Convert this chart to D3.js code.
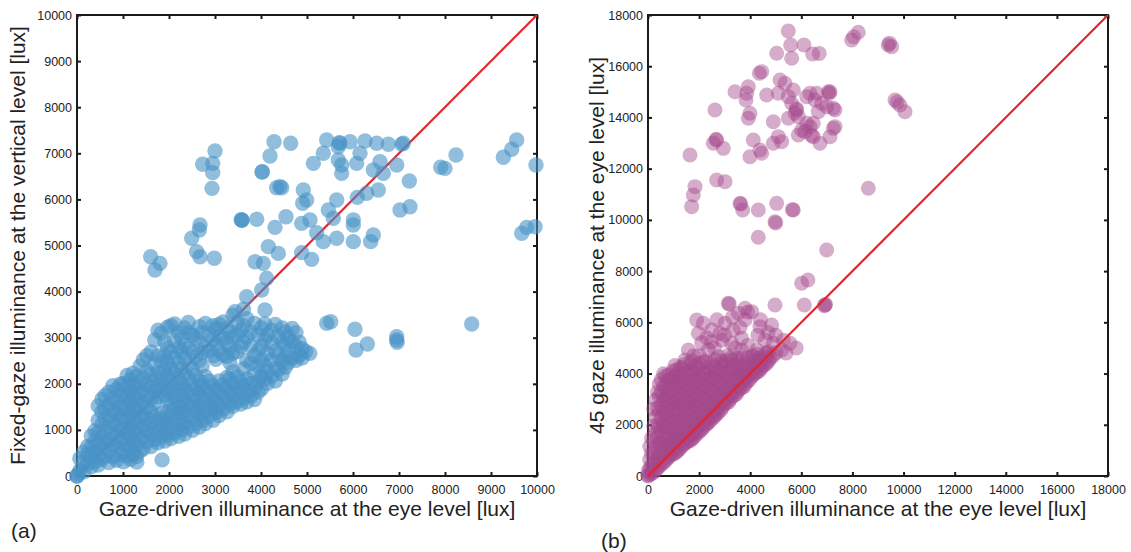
<!DOCTYPE html>
<html>
<head>
<meta charset="utf-8">
<title>Gaze-driven illuminance</title>
<script src="https://d3js.org/d3.v7.min.js"></script>
<style>
  body { margin: 0; background: #fff; }
  text { font-family: "Liberation Sans", Arial, sans-serif; fill: #222; }
</style>
</head>
<body>
<script>
// ---- data (lux) ----
// panel (a): gaze-driven vs fixed-gaze, scattered points
var spreadA = [
  [0,0],[0,0],[30,40],[1300,300],[1850,350],
  [4283,7252],[4645,7217],[3000,7050],[2732,6761],[2950,6782],[2950,6580],[2935,6240],
  [4196,6941],[4022,6594],[4341,6254],[4449,6254],[4029,6601],[4413,6276],
  [5428,7288],[5717,7217],[5700,7230],[5681,7143],[5935,7252],[6261,7267],[6514,7217],
  [6768,7195],[7094,7217],[7060,7200],[5355,7000],[5138,6782],[5681,6855],[5754,6746],
  [6080,6782],[6152,7000],[5754,6565],[6442,6638],[6659,6565],[6587,6818],[6950,6746],
  [7225,6399],[8239,6963],[7906,6696],[8000,6674],[9268,6913],[9450,7087],[9558,7288],
  [9978,6746],[9667,5265],[9775,5394],[9957,5408],[8580,3297],
  [1602,4757],[1804,4613],[1696,4469],[2674,5445],[2659,5336],[2493,5156],[2601,4866],
  [2674,4757],[2985,4722],[3580,5553],[3570,5560],[3590,5545],[3906,5568],[4304,5394],
  [4543,5625],[4920,6204],[4993,5987],[4906,5915],[4884,5481],[5065,5553],[5210,5278],
  [5355,5083],[5464,5770],[5572,5590],[5645,5987],[5645,5156],[6007,5553],[6007,5445],
  [6007,5083],[6094,6045],[6297,6132],[6550,6204],[6442,5228],[6384,5083],[7022,5770],
  [7239,5842],[4159,4975],[4376,4830],[3870,4649],[4051,4613],[4123,4288],[4014,4035],
  [3689,3889],[4087,3601],[3435,3564],[4884,4845],[5101,4700],
  [5428,3312],[5514,3347],[6043,3182],[6065,2733],[6312,2863],[6950,3022],[6950,2950],[6960,2900]
];
// panel (a): dense core, listed per gaze column -> fixed-gaze values
var coreA = [
  [60, [120, 380]],
  [230, [260, 470, 640]],
  [390, [310, 520, 760, 980]],
  [540, [360, 610, 840, 1120, 1390, 1660]],
  [690, [290, 560, 790, 1060, 1310, 1540, 1820]],
  [860, [340, 620, 870, 1090, 1360, 1610, 1880]],
  [1010, [310, 540, 810, 1020, 1260, 1490, 1760, 2010]],
  [1160, [360, 620, 860, 1110, 1340, 1590, 1840, 2090]],
  [1290, [420, 660, 910, 1160, 1420, 1660, 1910, 2160]],
  [1440, [590, 860, 1110, 1340, 1610, 1860, 2120, 2520]],
  [1610, [640, 910, 1140, 1390, 1670, 1920, 2210, 2690]],
  [1760, [720, 960, 1210, 1720, 1960, 2240, 2610, 3160]],
  [1910, [760, 1010, 1260, 1760, 2010, 2310, 2610, 2910]],
  [2040, [810, 1040, 1310, 1560, 1810, 2060, 2340, 2690, 3260]],
  [2210, [860, 1110, 1360, 1590, 1860, 2110, 2460, 2780, 3110]],
  [2340, [910, 1160, 1410, 1660, 1890, 2210, 2560, 2840, 3210]],
  [2510, [990, 1260, 1510, 1740, 2010, 2310, 2690, 3060]],
  [2660, [1060, 1310, 1540, 1810, 2060, 2510, 2910, 3240]],
  [2790, [1140, 1410, 1660, 1890, 2160, 2790, 3310]],
  [2960, [1210, 1460, 1690, 1960, 2610, 2960, 3260]],
  [3090, [1310, 1540, 1810, 2060, 2710, 3020, 3290]],
  [3260, [1390, 1660, 1910, 2140, 2590, 2890, 3210]],
  [3390, [1510, 1760, 2010, 2260, 2660, 3010, 3490]],
  [3560, [1560, 1810, 2040, 2810, 3160]],
  [3690, [1610, 1860, 2110, 2510, 3010, 3410]],
  [3860, [1660, 1910, 2210, 2610, 3310]],
  [4010, [1890, 2160, 2510, 2810, 3210]],
  [4140, [2010, 2260, 2660, 3060]],
  [4310, [2060, 2340, 2710, 3290]],
  [4460, [2210, 2490, 2910, 3210]],
  [4590, [2460, 2710, 3010]],
  [4760, [2510, 2810, 3110]],
  [4890, [2560, 2760]],
  [5060, [2660]]
];
// panel (a): second pass over the core, between the columns above
var coreA2 = [
  [150, [90, 300, 520]],
  [310, [200, 410, 640, 870]],
  [460, [240, 460, 700, 940, 1210, 1520]],
  [610, [430, 720, 960, 1230, 1480, 1740]],
  [780, [420, 680, 930, 1190, 1440, 1690, 1960]],
  [940, [470, 740, 990, 1230, 1480, 1740, 1990]],
  [1090, [440, 690, 940, 1200, 1440, 1700, 1960, 2180]],
  [1220, [480, 740, 990, 1240, 1490, 1740, 1990, 2230]],
  [1370, [540, 790, 1040, 1290, 1540, 1790, 2030, 2380]],
  [1520, [740, 990, 1240, 1490, 1740, 1990, 2290, 2610]],
  [1690, [790, 1040, 1290, 1590, 1840, 2090, 2420, 2950]],
  [1830, [860, 1110, 1360, 1860, 2130, 2480, 3100]],
  [1970, [890, 1140, 1390, 1640, 1890, 2190, 2470, 2780, 3230]],
  [2120, [940, 1190, 1440, 1700, 1960, 2230, 2560, 2950, 3300]],
  [2270, [1010, 1260, 1510, 1760, 2000, 2330, 2690, 3010]],
  [2420, [1060, 1310, 1560, 1810, 2110, 2430, 2760, 3110, 3330]],
  [2580, [1140, 1390, 1640, 1890, 2180, 2590, 2990]],
  [2720, [1210, 1460, 1710, 1960, 2390, 2680, 3110]],
  [2880, [1300, 1540, 1790, 2060, 2720, 3060]],
  [3020, [1380, 1620, 1880, 2530, 2860, 3190]],
  [3180, [1460, 1720, 1980, 2630, 2990, 3340]],
  [3320, [1560, 1810, 2110, 2460, 2790, 3120]],
  [3480, [1620, 1880, 2160, 2700, 3060, 3330]],
  [3620, [1690, 1960, 2330, 2900, 3260, 3620]],
  [3780, [1740, 2010, 2440, 2820, 3120]],
  [3940, [1820, 2060, 2390, 2720, 3060]],
  [4080, [2110, 2400, 2960, 3300]],
  [4230, [2160, 2520, 2880, 3160]],
  [4380, [2310, 2620, 3020]],
  [4530, [2360, 2590, 2860, 3120]],
  [4680, [2560, 2910, 3200]],
  [4830, [2620, 2900]],
  [4970, [2700]]
];

// panel (b): gaze-driven vs 45 gaze, scattered points
var spreadB = [
  [5490,17376],[5583,16830],[6103,16830],[6443,16478],[5622,16310],[5035,16505],[4448,15788],
  [4356,15724],[3404,15006],[2621,14291],[1643,12534],[1839,11297],[1773,10972],[1708,10516],
  [2556,12991],[2686,13120],[2660,13150],[2947,12794],[2686,11558],[3013,11493],[3599,10646],
  [3630,10620],[3705,10386],[4316,10386],[4316,9320],[5035,10646],[4969,9930],[5000,9880],
  [5686,10386],[5650,10400],[6991,8825],[3861,14942],[3926,15200],[3834,14682],[3990,14162],
  [3926,13967],[4120,13120],[3990,12467],[4382,12729],[4450,12600],[4644,14877],[4903,13834],
  [4903,12991],[5098,13250],[5230,13055],[5164,15463],[5360,15332],[5098,14942],[5490,14812],
  [5686,15072],[5622,14552],[5818,14291],[5490,13967],[5881,14031],[6012,13511],[5881,13315],
  [6338,13640],[6468,13770],[6209,14812],[6338,14942],[6534,14682],[6599,14942],[6795,14552],
  [6991,14422],[7316,14291],[7095,14942],[7121,15006],[6664,14226],[7121,13250],[7251,13575],
  [7316,13640],[6730,12991],[6468,13250],[6400,13300],[6143,13445],[6209,13770],[5752,14162],
  [5800,14350],[7969,17025],[8229,17324],[8050,17150],[9402,16830],[9533,16765],[9450,16900],
  [9664,14682],[9859,14487],[10055,14226],[9750,14600],[8620,11234],[6700,16500],[7056,15006],
  [7251,14357],
  [6925,6677],[6950,6700],[6900,6650],[6116,6677],[6012,7525],[6260,7653],[4969,6677],
  [3143,6742],[3180,6720],[3795,6547],[3900,6400],[3534,6352],[4056,6417],[1904,6091],[2164,5962],
  [1969,5571],[1578,4920],[1448,4530],[3013,5962],[2817,5571],[2491,5246],[2360,4920],
  [2752,4660],[3338,5701],[3665,5376],[3665,4920],[3273,5181],[4382,5831],[4838,5896],
  [4577,5311],[4903,5181],[5230,4920],[5556,5181],[4250,4920],
  [2000,4700],[2300,5400],[2600,5000],[2900,5300],[3100,4700],[3400,5000],[3600,5800],
  [3900,5100],[4100,4700],[4300,5500],[2500,5700],[2700,6100],[3300,6200],[4700,5600],
  [5000,5500],[5300,5300],[4600,4800],[1800,4700],[2100,5200],[3800,6100],[4400,6100],
  [3000,5500],[3500,4600],[5800,5000],[5400,4800]
];
// panel (b): dense core, per gaze column -> 45 gaze values
var coreB = [
  [0, [0, 30, 180]],
  [140, [90, 420, 880, 1480]],
  [310, [210, 590, 1120, 1690, 2310, 2980]],
  [440, [380, 820, 1290, 1910, 2480, 3120, 3590]],
  [610, [520, 980, 1520, 2010, 2490, 3010, 3520, 3990]],
  [760, [690, 1210, 1690, 2210, 2720, 3190, 3710]],
  [890, [810, 1290, 1820, 2290, 2810, 3310, 3790]],
  [1060, [890, 1410, 1890, 2410, 2890, 3410, 3890, 4310]],
  [1190, [1010, 1490, 2010, 2490, 3010, 3490, 4010]],
  [1360, [1190, 1710, 2190, 2710, 3190, 3710, 4190]],
  [1490, [1310, 1790, 2310, 2790, 3310, 3790]],
  [1660, [1390, 1910, 2390, 2910, 3390, 3910, 4390]],
  [1790, [1510, 1990, 2510, 2990, 3510, 4010]],
  [1960, [1690, 2210, 2690, 3210, 3690, 4210]],
  [2090, [1810, 2290, 2810, 3290, 3810]],
  [2260, [1990, 2510, 2990, 3510, 3990, 4490]],
  [2390, [2110, 2590, 3110, 3590, 4110]],
  [2560, [2290, 2810, 3290, 3810, 4290]],
  [2690, [2410, 2890, 3410, 3890]],
  [2860, [2590, 3110, 3590, 4110, 4490]],
  [2990, [2810, 3290, 3810, 4310]],
  [3160, [2890, 3410, 3890]],
  [3290, [3110, 3590, 4110, 4510]],
  [3460, [3190, 3710, 4190]],
  [3590, [3410, 3890, 4310]],
  [3760, [3490, 4010]],
  [3890, [3710, 4190, 4610]],
  [4060, [3890, 4310]],
  [4190, [4010, 4490]],
  [4360, [4110, 4590]],
  [4490, [4290]],
  [4660, [4410, 4790]],
  [4790, [4610]],
  [5010, [4810]]
];
// panel (b): second pass over the core
var coreB2 = [
  [70, [60, 310, 640, 1150]],
  [220, [150, 480, 900, 1380, 1950, 2620]],
  [370, [300, 700, 1500, 2000, 2650, 3280]],
  [520, [450, 880, 1250, 1750, 2250, 2750, 3270, 3760]],
  [680, [600, 1100, 1450, 1950, 2450, 2960, 3460, 3900]],
  [820, [750, 1000, 1450, 1950, 2480, 2960, 3450, 3950]],
  [970, [850, 1100, 1550, 2050, 2550, 3050, 3550, 4100]],
  [1120, [950, 1250, 1650, 2150, 2650, 3150, 3650, 4150]],
  [1270, [1100, 1350, 1750, 2250, 2750, 3250, 3750, 4250]],
  [1420, [1250, 1500, 1950, 2450, 2950, 3450, 3950, 4350]],
  [1570, [1350, 1550, 2050, 2550, 3050, 3550, 4050]],
  [1720, [1450, 1650, 2150, 2650, 3150, 3650, 4150, 4500]],
  [1870, [1600, 1800, 2250, 2750, 3250, 3750, 4300]],
  [2020, [1750, 2000, 2450, 2950, 3450, 3950, 4400]],
  [2170, [1900, 2100, 2550, 3050, 3550, 4050, 4450]],
  [2320, [2050, 2250, 2750, 3250, 3750, 4250]],
  [2470, [2200, 2400, 2850, 3350, 3850, 4400]],
  [2620, [2350, 2550, 3050, 3550, 4050, 4550]],
  [2770, [2500, 2700, 3150, 3650, 4150]],
  [2920, [2700, 2950, 3450, 3950, 4400]],
  [3070, [2850, 3050, 3550, 4050, 4500]],
  [3220, [3000, 3200, 3650, 4150, 4600]],
  [3370, [3150, 3350, 3850, 4300]],
  [3520, [3300, 3550, 4000, 4450]],
  [3670, [3450, 3700, 4150, 4600]],
  [3820, [3600, 3850, 4350]],
  [3970, [3750, 4050, 4450]],
  [4120, [3950, 4150, 4650]],
  [4270, [4050, 4300, 4750]],
  [4420, [4200, 4500]],
  [4580, [4350, 4650]],
  [4720, [4500, 4850]],
  [4900, [4700]]
];

var ticksA = [0,1000,2000,3000,4000,5000,6000,7000,8000,9000,10000];
var ticksB = [0,2000,4000,6000,8000,10000,12000,14000,16000,18000];

function flatten(core) {
  var out = [];
  core.forEach(function(c) { c[1].forEach(function(v) { out.push([c[0], v]); }); });
  return out;
}

var svg = d3.select("body").append("svg")
    .attr("width", 1131)
    .attr("height", 552);

svg.append("rect").attr("width", 1131).attr("height", 552).attr("fill", "#fff");

function panel(p) {
  var x = d3.scaleLinear().domain([0, p.max]).range([p.left, p.left + 460]);
  var y = d3.scaleLinear().domain([0, p.max]).range([476, 15]);
  var g = svg.append("g");

  // box
  g.append("rect")
      .attr("x", x(0)).attr("y", y(p.max))
      .attr("width", x(p.max) - x(0)).attr("height", y(0) - y(p.max))
      .attr("fill", "none").attr("stroke", "#1a1a1a").attr("stroke-width", 2);

  var fmt = d3.format("d");
  var ax = [
    g.append("g").attr("transform", "translate(0,476)")
      .call(d3.axisBottom(x).tickValues(p.ticks).tickFormat(fmt).tickSizeInner(-4).tickSizeOuter(0).tickPadding(9)),
    g.append("g").attr("transform", "translate(" + x(0) + ",0)")
      .call(d3.axisLeft(y).tickValues(p.ticks).tickFormat(fmt).tickSizeInner(-4).tickSizeOuter(0).tickPadding(5)),
    g.append("g").attr("transform", "translate(0," + y(p.max) + ")")
      .call(d3.axisTop(x).tickValues(p.ticks).tickFormat("").tickSizeInner(-4).tickSizeOuter(0)),
    g.append("g").attr("transform", "translate(" + x(p.max) + ",0)")
      .call(d3.axisRight(y).tickValues(p.ticks).tickFormat("").tickSizeInner(-4).tickSizeOuter(0))
  ];
  ax.forEach(function(a) {
    a.select(".domain").remove();
    a.selectAll(".tick line").attr("stroke", "#1a1a1a").attr("stroke-width", 2);
    a.selectAll(".tick text").style("font-size", "12.5px").attr("fill", "#222");
  });

  g.append("text")
      .attr("x", x(p.max / 2)).attr("y", 516)
      .attr("text-anchor", "middle").style("font-size", "21px")
      .text(p.xLabel);
  g.append("text")
      .attr("transform", "translate(" + p.yLabelX + "," + ((y(0) + y(p.max)) / 2) + ") rotate(-90)")
      .attr("text-anchor", "middle").style("font-size", "21px")
      .text(p.yLabel);
  g.append("text")
      .attr("x", p.tagX).attr("y", p.tagY)
      .style("font-size", "21px")
      .text(p.tag);

  var diag = function() {
    g.append("line")
        .attr("x1", x(0)).attr("y1", y(0))
        .attr("x2", x(p.max)).attr("y2", y(p.max))
        .attr("stroke", "#e0252b").attr("stroke-width", 2.2);
  };

  if (!p.lineOnTop) diag();

  g.append("g").selectAll("circle")
      .data(p.points)
      .join("circle")
      .attr("cx", function(d) { return x(d[0]); })
      .attr("cy", function(d) { return y(d[1]); })
      .attr("r", p.r)
      .attr("fill", p.color)
      .attr("fill-opacity", p.opacity);

  if (p.lineOnTop) diag();
}

panel({
  left: 77, max: 10000, ticks: ticksA,
  points: flatten(coreA).concat(flatten(coreA2), spreadA),
  color: "#4893c6", opacity: 0.6, r: 7.7, lineOnTop: false,
  xLabel: "Gaze-driven illuminance at the eye level [lux]",
  yLabel: "Fixed-gaze illuminance at the vertical level [lux]",
  yLabelX: 25, tag: "(a)", tagX: 11, tagY: 538
});

panel({
  left: 648, max: 18000, ticks: ticksB,
  points: flatten(coreB).concat(flatten(coreB2), spreadB),
  color: "#a5478c", opacity: 0.45, r: 7.5, lineOnTop: true,
  xLabel: "Gaze-driven illuminance at the eye level [lux]",
  yLabel: "45 gaze illuminance at the eye level [lux]",
  yLabelX: 604, tag: "(b)", tagX: 601, tagY: 548
});
</script>
</body>
</html>
